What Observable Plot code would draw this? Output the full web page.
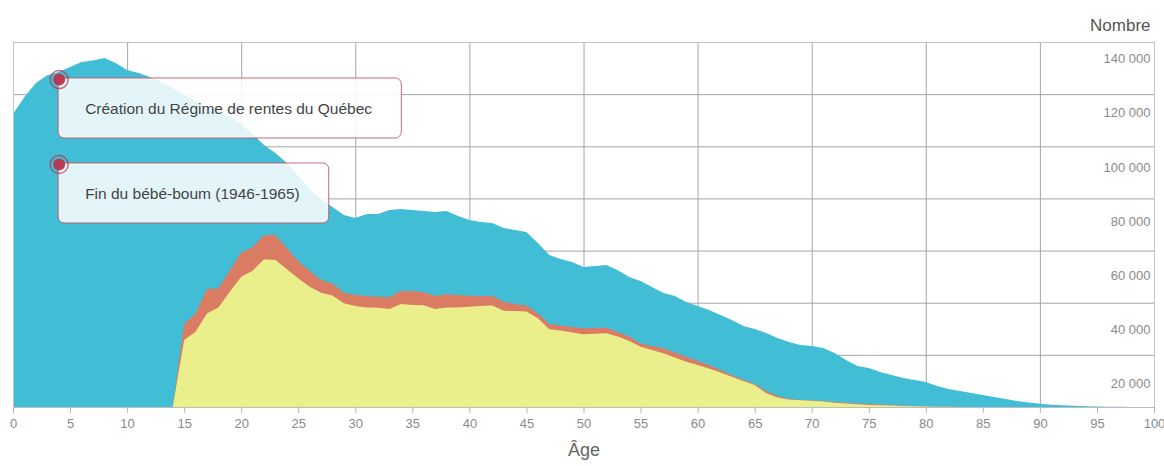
<!DOCTYPE html>
<html>
<head>
<meta charset="utf-8">
<script src="https://cdn.jsdelivr.net/npm/d3@7"></script>
<script src="https://cdn.jsdelivr.net/npm/@observablehq/plot@0.6"></script>
<style>
  html, body { margin: 0; padding: 0; background: #fff; }
  #chart svg { display: block; }
</style>
</head>
<body>
<div id="chart"></div>
<script>
// ---------- Data ----------
const ages = d3.range(0, 101);

// Population totale par âge (aire bleue), âges 0..100
const population = [
  112400,118900,124300,127200,128500,130400,132300,132900,133900,131900,
  129300,128100,126600,124700,122400,119700,117400,115100,113200,111200,
  108500,104700,100500,97400,93600,88600,83600,79800,76700,73600,
  72500,74000,74000,75600,75900,75600,75200,74800,75200,73300,
  71700,71000,70600,68700,67900,67100,62900,58300,56800,55600,
  53700,54100,54500,52500,49900,48300,46000,43700,42600,40300,
  38700,37200,35300,33400,31100,29900,28400,26500,24900,23800,
  23400,22600,20700,18000,15700,15000,13400,12300,11100,10400,
  9600,8100,6900,6100,5400,4600,3800,3100,2300,1700,
  1200,850,650,460,310,190,120,60,30,15,0
];

// Aire orange, à partir de 14 ans
const workersStartAge = 14;
const workers = [
  0,31800,35900,45300,45500,52500,59300,61300,66000,66000,
  60900,56000,52200,48700,47400,43800,43000,42600,42300,42200,
  44500,44500,44000,42600,43200,43000,42700,42600,42600,40400,
  39500,38900,35900,31800,31300,30700,30200,30300,30400,28800,
  27000,24400,23400,22500,20900,19300,17600,16100,14200,12300,
  10500,8800,6100,4200,3100,2760,2500,2300,1900,1600,
  1350,1150,960,770,580,380,190,100,50,0,
  0,0,0,0,0,0,0,0,0,0,0,0,0,0,0,0,0
];

// Aire jaune, à partir de 14 ans
const contributorsStartAge = 14;
const contributors = [
  0,25700,28900,35900,38200,44200,50000,52300,56700,56400,
  52800,49400,46100,43800,42800,39800,38700,38200,38100,37600,
  39500,39100,39000,37600,38200,38200,38500,38700,38900,36900,
  36800,36600,34000,29800,29300,28600,27900,28100,28300,27000,
  25300,23100,21900,20600,19000,17400,16100,14800,13200,11600,
  10000,8400,5400,3600,2900,2600,2420,2100,1650,1340,
  1070,770,650,540,420,310,190,100,50,0,
  0,0,0,0,0,0,0,0,0,0,0,0,0,0,0,0,0
];

const xTicks = [0,5,10,15,20,25,30,35,40,45,50,55,60,65,70,75,80,85,90,95,100];
const xGridTicks = [10,20,30,40,50,60,70,80,90];
const yGridTicks = [20000,40000,60000,80000,100000,120000];
const yLabelTicks = [20000,40000,60000,80000,100000,120000,140000];

const annotationAges = [4, 4];
const annotationValues = [125800, 93200];
const annotationLabels = ["Création du Régime de rentes du Québec", "Fin du bébé-boum (1946-1965)"];

// ---------- Tables ----------
const table = ages.map((a, i) => ({
  age: a,
  population: population[i],
  workers: a >= workersStartAge ? workers[a - workersStartAge] : null,
  contributors: a >= contributorsStartAge ? contributors[a - contributorsStartAge] : null
}));
const annotations = annotationLabels.map((label, i) => ({
  age: annotationAges[i], value: annotationValues[i], label
}));

const fmt = d => d3.format(",")(d).replace(/,/g, "\u00a0");
// the reference's value labels sit slightly below their gridlines, on a stretched scale
const labelPos = d => d * 1.0375 - 11660;

const FONT = "'Helvetica Neue', Helvetica, Arial, 'Liberation Sans', sans-serif";
const RED = "#b8344c";

const chart = Plot.plot({
  width: 1164,
  height: 466,
  marginTop: 42,
  marginRight: 10,
  marginBottom: 59,
  marginLeft: 13,
  style: { fontFamily: FONT, fontSize: "13px", background: "#fff" },
  x: { domain: [0, 100] },
  y: { domain: [0, 140000], axis: null },
  marks: [
    Plot.gridY(yGridTicks, { stroke: "#a6a6a6", strokeOpacity: 1, strokeWidth: 1 }),
    Plot.gridX(xGridTicks, { stroke: "#a6a6a6", strokeOpacity: 1, strokeWidth: 1 }),
    Plot.areaY(table, { x: "age", y1: 0, y2: "population", fill: "#42bdd6", curve: "linear" }),
    Plot.areaY(table, { x: "age", y1: 0, y2: "workers", fill: "#da7c63", curve: "linear" }),
    Plot.areaY(table, { x: "age", y1: 0, y2: "contributors", fill: "#ebef8b", curve: "linear" }),
    Plot.frame({ stroke: "#c4c4c4" }),
    Plot.ruleY([0], { stroke: "#bdbdbd" }),
    Plot.axisX(xTicks, {
      tickSize: 6, tickPadding: 5, stroke: "#b5b5b5", fill: "#8a8a8a",
      fontSize: 13, label: null
    }),
    Plot.text(yLabelTicks, {
      x: 100, y: labelPos, text: fmt, textAnchor: "end", dx: -4,
      fill: "#8a8a8a", fontSize: 13
    }),
    Plot.text(annotations, {
      x: "age", y: "value", text: "label", textAnchor: "start", lineAnchor: "middle",
      dx: 26, dy: 30, fill: "#444", fontSize: 15.5
    }),
    Plot.dot(annotations, { x: "age", y: "value", r: 9, fill: "none", stroke: RED, strokeWidth: 1.4, strokeOpacity: 0.75 }),
    Plot.dot(annotations, { x: "age", y: "value", r: 6, fill: RED, fillOpacity: 0.95 }),
    Plot.text(["Nombre"], {
      text: d => d, frameAnchor: "top-right", dx: -4, dy: -24, textAnchor: "end",
      fontSize: 17, fill: "#555"
    }),
    Plot.text(["Âge"], {
      text: d => d, frameAnchor: "bottom", dy: 48, fontSize: 18, fill: "#666"
    })
  ]
});

document.getElementById("chart").appendChild(chart);

// ---------- Annotation boxes (sized to the rendered text) ----------
try {
  const svgRect = chart.getBoundingClientRect();
  const texts = Array.from(chart.querySelectorAll("text"))
    .filter(t => annotationLabels.includes(t.textContent));
  if (texts.length) {
    const textGroup = texts[0].parentNode;
    const boxes = document.createElementNS("http://www.w3.org/2000/svg", "g");
    textGroup.parentNode.insertBefore(boxes, textGroup);
    texts.forEach((t) => {
      const r = t.getBoundingClientRect();
      const left = r.left - svgRect.left - 27;
      const right = r.right - svgRect.left + 29;
      const cy = (r.top + r.bottom) / 2 - svgRect.top;
      d3.select(boxes).append("rect")
        .attr("x", left).attr("y", cy - 31)
        .attr("width", right - left).attr("height", 60)
        .attr("rx", 6).attr("ry", 6)
        .attr("fill", "#ffffff").attr("fill-opacity", 0.85)
        .attr("stroke", "#c2505c").attr("stroke-opacity", 0.85).attr("stroke-width", 1);
    });
  }
} catch (e) { console.error(e); }
</script>
</body>
</html>
